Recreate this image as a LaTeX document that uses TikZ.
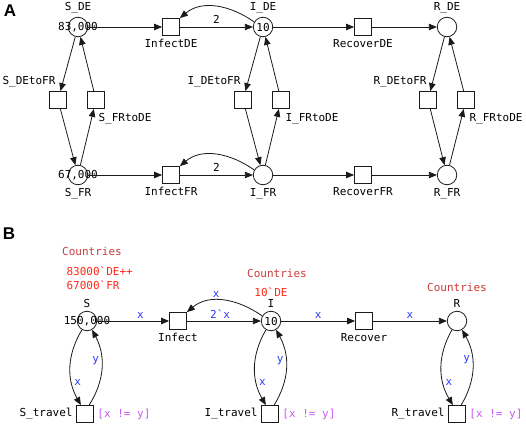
\documentclass[tikz,border=0pt]{standalone}
\usepackage{fontspec}
\setmainfont{Liberation Sans}
\setmonofont{DejaVu Sans Mono}
\usepackage{tikz}
\usetikzlibrary{arrows.meta,positioning}
\definecolor{cpnInk}{HTML}{1A1A1A}
\definecolor{cpnColset}{HTML}{C83C3C}
\definecolor{cpnToken}{HTML}{FF2A1A}
\definecolor{cpnInscr}{HTML}{2B3BFF}
\definecolor{cpnGuard}{HTML}{C65BF0}

\begin{document}
\begin{tikzpicture}[
  x=1pt,y=1pt,
  font=\ttfamily\fontsize{11}{14}\selectfont,
  every node/.style={align=center},
  place/.style ={circle,draw=cpnInk,line width=0.8pt,minimum size=19.5pt,inner sep=0pt},
  trans/.style ={rectangle,draw=cpnInk,line width=0.8pt,minimum size=17pt,inner sep=0pt},
  panel/.style ={font=\rmfamily\bfseries\fontsize{17}{17}\selectfont},
  colset/.style={text=cpnColset},
  token/.style ={text=cpnToken},
  inscr/.style ={text=cpnInscr,inner sep=2pt},
  guard/.style ={text=cpnGuard},
  arc/.style   ={-{Triangle[length=8pt,width=6.5pt]},draw=cpnInk,line width=0.8pt}
]
\useasboundingbox (0,0) rectangle (526,-425);

% ---------- panel A ----------
\node[panel] (pA) at (10,-11) {A};

% DE row
\node[place,label=center:{83,000},label=above:{S\_DE}] (sDE) at (78,-27) {};
\node[trans,label=below:{InfectDE}]  (infDE) at (171,-27) {};
\node[place,label=above:{I\_DE}]     (iDE)   at (263,-27) {10};
\node[trans,label=below:{RecoverDE}] (recDE) at (363,-27) {};
\node[place,label=above:{R\_DE}]     (rDE)   at (447,-27) {};

% travel transitions
\node[trans] (sDEFR) at (58,-100) {};
\node[trans] (sFRDE) at (96,-100) {};
\node[trans] (iDEFR) at (243,-100) {};
\node[trans] (iFRDE) at (281,-100) {};
\node[trans] (rDEFR) at (428,-100) {};
\node[trans] (rFRDE) at (466,-100) {};
\node (lsDEFR) at (29,-82)   {S\_DEtoFR};
\node (lsFRDE) at (125,-119) {S\_FRtoDE};
\node (liDEFR) at (214,-82)  {I\_DEtoFR};
\node (liFRDE) at (312,-119) {I\_FRtoDE};
\node (lrDEFR) at (400,-82)  {R\_DEtoFR};
\node (lrFRDE) at (496,-119) {R\_FRtoDE};

% FR row
\node[place,label=center:{67,000},label=below:{S\_FR}] (sFR) at (78,-175) {};
\node[trans,label=below:{InfectFR}]  (infFR) at (171,-175) {};
\node[place,label=below:{I\_FR}]     (iFR)   at (263,-175) {};
\node[trans,label=below:{RecoverFR}] (recFR) at (363,-175) {};
\node[place,label=below:{R\_FR}]     (rFR)   at (447,-175) {};

% arcs along the rows
\draw[arc] (sDE) -- (infDE);
\draw[arc] (infDE) -- node[above] {2} (iDE);
\draw[arc] (iDE.150) to[out=145,in=40] (infDE.north east);
\draw[arc] (iDE) -- (recDE);
\draw[arc] (recDE) -- (rDE);
\draw[arc] (sFR) -- (infFR);
\draw[arc] (infFR) -- node[above] {2} (iFR);
\draw[arc] (iFR.150) to[out=145,in=40] (infFR.north east);
\draw[arc] (iFR) -- (recFR);
\draw[arc] (recFR) -- (rFR);

% arcs between the countries
\draw[arc] (sDE) -- (sDEFR);
\draw[arc] (sDEFR) -- (sFR);
\draw[arc] (sFR) -- (sFRDE);
\draw[arc] (sFRDE) -- (sDE);
\draw[arc] (iDE) -- (iDEFR);
\draw[arc] (iDEFR) -- (iFR);
\draw[arc] (iFR) -- (iFRDE);
\draw[arc] (iFRDE) -- (iDE);
\draw[arc] (rDE) -- (rDEFR);
\draw[arc] (rDEFR) -- (rFR);
\draw[arc] (rFR) -- (rFRDE);
\draw[arc] (rFRDE) -- (rDE);

% ---------- panel B ----------
\node[panel] (pB) at (9,-234) {B};

\node[colset] (csS) at (92,-251) {Countries};
\node[token,align=left,anchor=west] (mS) at (63,-278) {83000\textasciigrave DE++\\67000\textasciigrave FR};
\node[colset] (csI) at (277,-273) {Countries};
\node[token] (mI) at (271,-292) {10\textasciigrave DE};
\node[colset] (csR) at (457,-287) {Countries};

\node[place,label=center:{150,000},label=above:S] (s) at (87,-321) {};
\node[trans,label=below:{Infect}]  (inf) at (178,-321) {};
\node[place,label=above:I]         (i)   at (271,-321) {10};
\node[trans,label=below:{Recover}] (rec) at (364,-321) {};
\node[place,label=above:R]         (r)   at (457,-321) {};

\node[trans,label=left:{S\_travel},label={[guard]right:{[x != y]}}] (sTr) at (85,-414) {};
\node[trans,label=left:{I\_travel},label={[guard]right:{[x != y]}}] (iTr) at (270,-414) {};
\node[trans,label=left:{R\_travel},label={[guard]right:{[x != y]}}] (rTr) at (457,-414) {};

% arcs
\draw[arc] (s) -- node[inscr,above,pos=.6] {x} (inf);
\draw[arc] (inf) -- node[inscr,above,pos=.45] {2\textasciigrave x} (i);
\draw[arc] (i.150) to[out=145,in=40] node[inscr,above,pos=.6] {x} (inf.north east);
\draw[arc] (i) -- node[inscr,above] {x} (rec);
\draw[arc] (rec) -- node[inscr,above] {x} (r);

\draw[arc] (s.240) to[bend right=30] node[inscr,right,pos=.7] {x} (sTr.115);
\draw[arc] (sTr.65) to[bend right=30] node[inscr,left,pos=.6] {y} (s.300);
\draw[arc] (i.240) to[bend right=30] node[inscr,right,pos=.7] {x} (iTr.115);
\draw[arc] (iTr.65) to[bend right=30] node[inscr,left,pos=.6] {y} (i.300);
\draw[arc] (r.240) to[bend right=30] node[inscr,right,pos=.7] {x} (rTr.115);
\draw[arc] (rTr.65) to[bend right=30] node[inscr,left,pos=.6] {y} (r.300);
\end{tikzpicture}
\end{document}
